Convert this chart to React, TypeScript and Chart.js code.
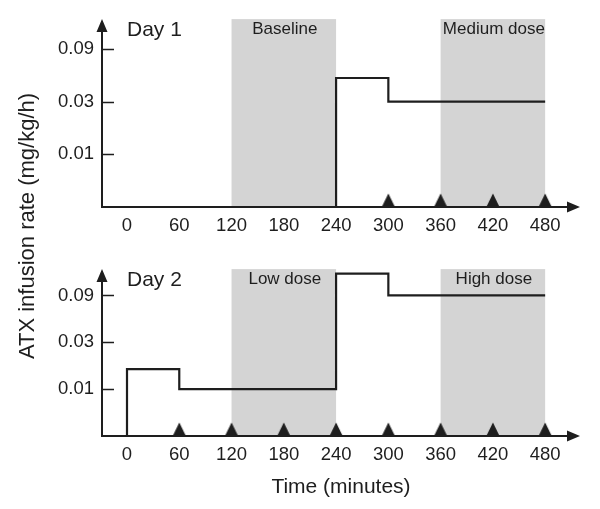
import React, { useEffect, useRef } from 'react';
import { Chart, registerables } from 'chart.js';

Chart.register(...registerables);

// ---- data ----
const xTickValues = [0, 60, 120, 180, 240, 300, 360, 420, 480];
const yTickRates = [0.01, 0.03, 0.09];
const yTickLabels = ['0.01', '0.03', '0.09'];

const day1Times = [0, 240, 300, 480];
const day1Rates = [0, 0.049, 0.03, 0.03];
const day1Markers = [300, 360, 420, 480];
const day1BandStarts = [120, 360];
const day1BandEnds = [240, 480];
const day1BandLabels = ['Baseline', 'Medium dose'];

const day2Times = [0, 0, 60, 240, 300, 480];
const day2Rates = [0, 0.016, 0.01, 0.15, 0.09, 0.09];
const day2Markers = [60, 120, 180, 240, 300, 360, 420, 480];
const day2BandStarts = [120, 360];
const day2BandEnds = [240, 480];
const day2BandLabels = ['Low dose', 'High dose'];

const xTitle = 'Time (minutes)';
const yTitle = 'ATX infusion rate (mg/kg/h)';

// ---- styling ----
const INK = '#1e1e1e';
const SHADE = '#d4d4d4';
const FAMILY = '"Liberation Sans", Arial, Helvetica, sans-serif';

// rate axis is spaced in steps of x3 with a zero baseline
const toPos = (rate: number) => (rate <= 0 ? 0 : 1 + Math.log(rate / 0.01) / Math.log(3));

function makeTriangle(): HTMLCanvasElement {
  const c = document.createElement('canvas');
  c.width = 14;
  c.height = 28;
  const g = c.getContext('2d')!;
  g.fillStyle = INK;
  g.beginPath();
  g.moveTo(7, 0.5);
  g.lineTo(13.6, 14);
  g.lineTo(0.4, 14);
  g.closePath();
  g.fill();
  return c;
}

const panelPlugin = {
  id: 'panel',
  beforeDatasetsDraw(chart: any, _args: any, opts: any) {
    const { ctx, chartArea } = chart;
    const x = chart.scales.x;
    const y = chart.scales.y;
    const oy = y.getPixelForValue(0);
    const ox = chartArea.left;
    ctx.save();
    // shaded bands
    ctx.fillStyle = SHADE;
    opts.bandStarts.forEach((s: number, i: number) => {
      const x0 = x.getPixelForValue(s);
      const x1 = x.getPixelForValue(opts.bandEnds[i]);
      ctx.fillRect(x0, chartArea.top, x1 - x0, oy - chartArea.top);
    });
    // band labels
    ctx.fillStyle = INK;
    ctx.font = `17px ${FAMILY}`;
    ctx.textAlign = 'center';
    ctx.textBaseline = 'middle';
    opts.bandLabels.forEach((lab: string, i: number) => {
      const cx = (x.getPixelForValue(opts.bandStarts[i]) + x.getPixelForValue(opts.bandEnds[i])) / 2;
      ctx.fillText(lab, cx + 1, chartArea.top + 10.5);
    });
    // panel label
    ctx.font = `21px ${FAMILY}`;
    ctx.textAlign = 'left';
    ctx.fillText(opts.panelLabel, x.getPixelForValue(0), chartArea.top + 11.5);
    // axes
    ctx.strokeStyle = INK;
    ctx.lineWidth = 2;
    ctx.beginPath();
    ctx.moveTo(ox, oy + 1);
    ctx.lineTo(ox, chartArea.top + 8);
    ctx.moveTo(ox - 1, oy);
    ctx.lineTo(chartArea.right - 8, oy);
    ctx.stroke();
    ctx.beginPath();
    ctx.moveTo(ox, chartArea.top);
    ctx.lineTo(ox - 5.5, chartArea.top + 13);
    ctx.lineTo(ox + 5.5, chartArea.top + 13);
    ctx.closePath();
    ctx.moveTo(chartArea.right, oy);
    ctx.lineTo(chartArea.right - 13, oy - 5.5);
    ctx.lineTo(chartArea.right - 13, oy + 5.5);
    ctx.closePath();
    ctx.fill();
    // inward y ticks
    ctx.lineWidth = 1.5;
    ctx.beginPath();
    yTickRates.forEach((r) => {
      const yy = Math.round(y.getPixelForValue(toPos(r))) + 0.5;
      ctx.moveTo(ox, yy);
      ctx.lineTo(ox + 12, yy);
    });
    ctx.stroke();
    ctx.restore();
  },
};

type PanelCfg = {
  times: number[];
  rates: number[];
  markers: number[];
  bandStarts: number[];
  bandEnds: number[];
  bandLabels: string[];
  panelLabel: string;
  padTop: number;
  xAxisHeight: number;
};

function buildChart(canvas: HTMLCanvasElement, cfg: PanelCfg) {
  const tri = makeTriangle();
  return new Chart(canvas, {
    type: 'line',
    data: {
      datasets: [
        {
          data: cfg.times.map((t, i) => ({ x: t, y: toPos(cfg.rates[i]) })),
          stepped: 'before',
          borderColor: INK,
          borderWidth: 2.2,
          pointRadius: 0,
          fill: false,
          clip: false as any,
        },
        {
          data: cfg.markers.map((t) => ({ x: t, y: 0 })),
          showLine: false,
          pointStyle: tri as any,
          pointRadius: 7,
          clip: false as any,
        },
      ],
    },
    options: {
      animation: false,
      responsive: false,
      events: [],
      layout: { padding: { top: cfg.padTop, right: 20, left: 0, bottom: 0 } },
      plugins: {
        legend: { display: false },
        tooltip: { enabled: false },
        panel: {
          bandStarts: cfg.bandStarts,
          bandEnds: cfg.bandEnds,
          bandLabels: cfg.bandLabels,
          panelLabel: cfg.panelLabel,
        },
      } as any,
      scales: {
        x: {
          type: 'linear',
          min: -28.7,
          max: 520,
          grid: { display: false, drawTicks: false },
          border: { display: false },
          afterBuildTicks: (s: any) => {
            s.ticks = xTickValues.map((v) => ({ value: v }));
          },
          afterFit: (s: any) => {
            s.height = cfg.xAxisHeight;
          },
          ticks: {
            padding: 8,
            color: INK,
            font: { family: FAMILY, size: 18.5 },
            maxRotation: 0,
            autoSkip: false,
            callback: (v: any) => String(v),
          },
        },
        y: {
          type: 'linear',
          min: 0,
          max: 3.563,
          grid: { display: false, drawTicks: false },
          border: { display: false },
          afterBuildTicks: (s: any) => {
            s.ticks = yTickRates.map((r) => ({ value: toPos(r) }));
          },
          afterFit: (s: any) => {
            s.width = 102;
          },
          ticks: {
            padding: 8,
            color: INK,
            font: { family: FAMILY, size: 18.5 },
            autoSkip: false,
            callback: (_v: any, i: number) => yTickLabels[i],
          },
        },
      },
    },
    plugins: [panelPlugin],
  } as any);
}

export default function App() {
  const topRef = useRef<HTMLCanvasElement>(null);
  const botRef = useRef<HTMLCanvasElement>(null);

  useEffect(() => {
    const c1 = buildChart(topRef.current!, {
      times: day1Times,
      rates: day1Rates,
      markers: day1Markers,
      bandStarts: day1BandStarts,
      bandEnds: day1BandEnds,
      bandLabels: day1BandLabels,
      panelLabel: 'Day 1',
      padTop: 18,
      xAxisHeight: 43,
    });
    const c2 = buildChart(botRef.current!, {
      times: day2Times,
      rates: day2Rates,
      markers: day2Markers,
      bandStarts: day2BandStarts,
      bandEnds: day2BandEnds,
      bandLabels: day2BandLabels,
      panelLabel: 'Day 2',
      padTop: 16,
      xAxisHeight: 73,
    });
    return () => {
      c1.destroy();
      c2.destroy();
    };
  }, []);

  return (
    <div
      style={{
        position: 'absolute',
        left: 0,
        top: 0,
        width: 600,
        height: 509,
        background: '#fff',
        fontFamily: FAMILY,
        color: INK,
        overflow: 'hidden',
      }}
    >
      <canvas ref={topRef} width={600} height={250} style={{ position: 'absolute', left: 0, top: 0, display: 'block' }} />
      <canvas ref={botRef} width={600} height={259} style={{ position: 'absolute', left: 0, top: 250, display: 'block' }} />
      <div
        style={{
          position: 'absolute',
          left: 27 - 200,
          top: 226 - 12,
          width: 400,
          height: 24,
          lineHeight: '24px',
          fontSize: 22,
          textAlign: 'center',
          transform: 'rotate(-90deg)',
          whiteSpace: 'nowrap',
        }}
      >
        {yTitle}
      </div>
      <div
        style={{
          position: 'absolute',
          left: 141,
          top: 474,
          width: 400,
          height: 24,
          lineHeight: '24px',
          fontSize: 21,
          textAlign: 'center',
          whiteSpace: 'nowrap',
        }}
      >
        {xTitle}
      </div>
    </div>
  );
}
